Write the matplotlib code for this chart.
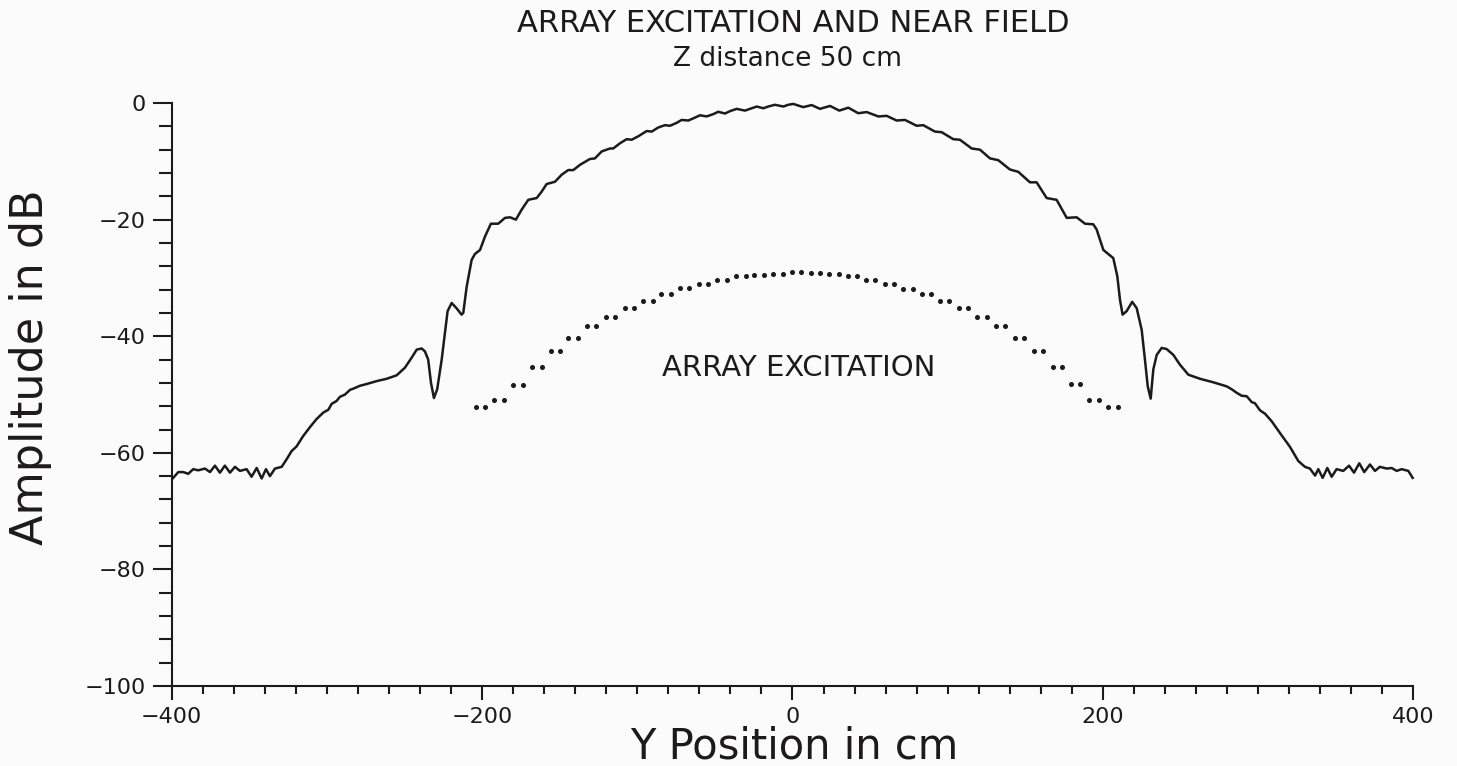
import matplotlib
matplotlib.use("Agg")
import matplotlib.pyplot as plt
from matplotlib.ticker import MultipleLocator
import numpy as np

plt.rcParams['font.family'] = ['DejaVu Sans']

# Near-field amplitude (dB) versus Y position (cm)
nf_y = [
    -399.0, -395.7, -392.5, -389.3, -386.1, -382.9, -378.5, -375.3, -372.1, -368.9,
    -365.7, -362.4, -359.2, -356.0, -351.7, -348.5, -345.2, -342.0, -339.2, -336.7,
    -333.4, -329.1, -325.9, -322.7, -319.5, -315.2, -310.9, -306.6, -302.3, -299.0,
    -296.9, -293.7, -291.6, -288.3, -285.1, -283.0, -278.7, -274.4, -267.9, -261.5,
    -255.0, -249.7, -245.4, -242.1, -238.9, -236.8, -234.7, -232.9, -231.0, -228.9,
    -226.0, -223.9, -222.2, -219.6, -216.4, -213.2, -212.1, -209.9, -206.7, -204.6,
    -201.3, -198.1, -194.3, -189.6, -185.2, -182.0, -178.2, -174.5, -170.2, -164.8,
    -161.6, -158.4, -153.0, -148.7, -144.5, -141.2, -136.9, -130.5, -127.3, -122.9,
    -117.6, -115.5, -111.1, -106.8, -103.6, -99.3, -93.9, -90.7, -86.5, -82.2,
    -78.9, -74.6, -71.4, -67.1, -62.8, -59.6, -55.3, -51.0, -47.8, -43.5,
    -40.3, -36.0, -30.6, -27.4, -23.0, -18.8, -15.6, -11.3, -5.9, -2.7,
    0.5, 6.9, 12.4, 17.7, 24.2, 30.2, 36.0, 42.4, 47.8, 55.3,
    60.7, 67.1, 72.5, 80.0, 84.3, 91.8, 96.1, 103.6, 107.9, 115.5,
    120.8, 127.3, 132.6, 140.1, 145.5, 153.0, 157.3, 163.8, 170.2, 176.7,
    183.1, 188.5, 193.8, 196.0, 200.3, 206.7, 209.3, 211.0, 212.7, 215.3,
    218.9, 221.8, 225.0, 227.1, 228.9, 230.8, 232.5, 234.7, 237.9, 241.1,
    245.4, 249.7, 255.1, 262.6, 271.1, 279.8, 283.0, 286.2, 289.4, 292.7,
    295.9, 298.0, 301.2, 304.5, 308.8, 314.1, 320.6, 325.9, 330.2, 333.4,
    336.7, 338.8, 341.6, 344.6, 347.4, 350.6, 354.9, 358.6, 361.8, 365.2,
    368.4, 372.1, 375.3, 378.5, 382.9, 386.1, 389.3, 392.5, 396.8, 399.6,
]
nf_db = [
    -64.3, -63.3, -63.3, -63.6, -62.8, -63.0, -62.7, -63.3, -62.2, -63.4,
    -62.2, -63.4, -62.4, -63.1, -62.8, -64.1, -62.6, -64.4, -62.8, -64.0,
    -62.7, -62.4, -61.1, -59.7, -58.9, -57.1, -55.6, -54.2, -53.1, -52.6,
    -51.6, -51.1, -50.4, -50.0, -49.2, -49.0, -48.5, -48.2, -47.7, -47.3,
    -46.7, -45.4, -43.7, -42.3, -42.1, -42.6, -44.0, -48.0, -50.6, -49.1,
    -44.0, -39.4, -35.7, -34.3, -35.2, -36.3, -36.0, -31.5, -26.9, -25.9,
    -25.2, -22.9, -20.7, -20.7, -19.7, -19.6, -20.0, -18.3, -16.6, -16.3,
    -15.2, -13.9, -13.5, -12.3, -11.5, -11.5, -10.6, -9.6, -9.5, -8.3,
    -7.8, -7.8, -6.9, -6.2, -6.3, -5.7, -4.8, -4.9, -4.2, -3.8,
    -3.9, -3.4, -2.9, -3.0, -2.5, -2.1, -2.3, -1.9, -1.5, -1.8,
    -1.4, -1.0, -1.3, -1.0, -0.6, -0.9, -0.6, -0.3, -0.6, -0.3,
    -0.15, -0.7, -0.35, -1.0, -0.5, -1.3, -0.8, -1.75, -1.55, -2.3,
    -2.2, -3.0, -2.9, -3.9, -3.8, -4.9, -5.0, -6.2, -6.3, -7.8,
    -8.0, -9.5, -9.8, -11.4, -11.8, -13.6, -13.6, -16.3, -16.6, -19.7,
    -19.6, -20.7, -20.8, -21.7, -25.2, -26.6, -29.7, -33.7, -36.3, -35.7,
    -34.1, -35.2, -38.9, -44.0, -48.6, -50.7, -45.7, -43.2, -42.0, -42.2,
    -43.2, -44.9, -46.6, -47.3, -47.9, -48.6, -49.1, -49.7, -50.2, -50.3,
    -51.3, -51.5, -52.7, -53.3, -54.6, -56.6, -59.0, -61.4, -62.4, -62.7,
    -63.9, -62.8, -64.3, -62.6, -64.1, -62.8, -63.1, -62.2, -63.4, -61.8,
    -63.3, -62.0, -63.1, -62.4, -62.7, -62.6, -63.1, -62.8, -63.1, -64.3,
]

# Array element centres (cm) and excitation amplitudes (dB)
elem_y = [
    -201.0, -189.0, -176.9, -164.5, -152.7, -141.3, -129.3, -117.3, -105.0, -93.1,
    -81.4, -69.5, -57.2, -45.3, -33.1, -21.5, -9.4, 2.7, 14.7, 26.7,
    38.6, 50.4, 62.5, 74.4, 86.5, 98.0, 110.3, 122.1, 134.1, 146.3,
    158.6, 170.6, 182.2, 194.2, 206.5,
]
elem_db = [
    -52.1, -51.0, -48.3, -45.2, -42.6, -40.3, -38.3, -36.7, -35.2, -33.9,
    -32.8, -31.8, -31.0, -30.3, -29.7, -29.5, -29.3, -29.05, -29.2, -29.35,
    -29.6, -30.3, -31.0, -31.85, -32.8, -33.9, -35.2, -36.7, -38.3, -40.3,
    -42.6, -45.2, -48.2, -50.9, -52.1,
]
elem_half_width = 3.0  # each element is plotted as a pair of dots

ink = '#1c1a1a'
fig = plt.figure(figsize=(14.57, 7.66), dpi=100, facecolor='#fbfbfb')
ax = fig.add_axes([0.1178, 0.1044, 0.8522, 0.7611])
ax.set_facecolor('#fbfbfb')

ax.plot(nf_y, nf_db, color=ink, lw=1.8, solid_joinstyle='round', clip_on=False)

ey = np.asarray(elem_y)
ed = np.asarray(elem_db)
dot_x = np.concatenate([ey - elem_half_width, ey + elem_half_width])
dot_y = np.concatenate([ed, ed])
ax.plot(dot_x, dot_y, linestyle='none', marker='o', ms=2.6, color=ink)

ax.text(4, -45.4, 'ARRAY EXCITATION', ha='center', va='center',
        fontsize=21, color=ink)

ax.set_xlim(-400, 400)
ax.set_ylim(-100, 0)
ax.xaxis.set_major_locator(MultipleLocator(200))
ax.xaxis.set_minor_locator(MultipleLocator(20))
ax.yaxis.set_major_locator(MultipleLocator(20))
ax.yaxis.set_minor_locator(MultipleLocator(4))

for s in ('top', 'right'):
    ax.spines[s].set_visible(False)
for s in ('left', 'bottom'):
    ax.spines[s].set_linewidth(1.5)
    ax.spines[s].set_color(ink)

ax.tick_params(axis='x', which='major', direction='out', length=10, width=1.5,
               pad=5, labelsize=16, colors=ink)
ax.tick_params(axis='x', which='minor', direction='out', length=6, width=1.5,
               colors=ink)
ax.tick_params(axis='y', which='major', direction='out', length=13.5, width=1.5,
               pad=5, labelsize=16, colors=ink)
ax.tick_params(axis='y', which='minor', direction='out', length=9.5, width=1.5,
               colors=ink)

fig.text(0.5445, 0.969, 'ARRAY EXCITATION AND NEAR FIELD', ha='center',
         va='center', fontsize=22, color=ink)
fig.text(0.5405, 0.923, 'Z distance 50 cm', ha='center', va='center',
         fontsize=19, color=ink)
fig.text(0.545, 0.026, 'Y Position in cm', ha='center', va='center',
         fontsize=30, color=ink)
fig.text(0.021, 0.52, 'Amplitude in dB', ha='center', va='center',
         rotation=90, fontsize=32, color=ink)

fig.savefig('out.png', dpi=100, facecolor=fig.get_facecolor())
